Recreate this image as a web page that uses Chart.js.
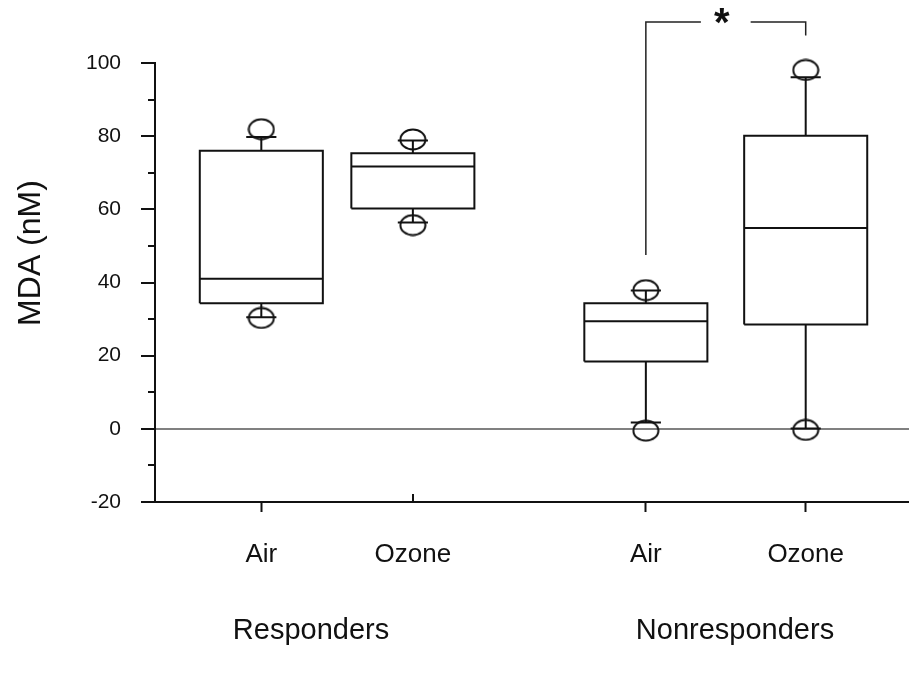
<!DOCTYPE html>
<html>
<head>
<meta charset="utf-8">
<script src="https://cdn.jsdelivr.net/npm/chart.js@4.4.1/dist/chart.umd.min.js"></script>
<style>
	body { margin: 0; background: #fff; }
	#wrap { width: 909px; height: 675px; }
</style>
</head>
<body>
<div id="wrap"><canvas id="box" width="909" height="675"></canvas></div>
<script>
// values
const xLabels = ["Air", "Ozone", "Air", "Ozone"]
const groupLabels = ["Responders", "Nonresponders"]
const xPos = [1.41, 3.42, 6.51, 8.63]
const boxLow = [34.3, 60.2, 18.4, 28.5]
const boxMid = [41.0, 71.7, 29.4, 54.9]
const boxHigh = [76.0, 75.3, 34.3, 80.1]
const whiskerLow = [30.5, 56.4, 1.7, 0.1]
const whiskerHigh = [79.8, 78.8, 37.8, 96.1]
const outlierLow = [30.3, 55.7, -0.5, -0.3]
const outlierHigh = [81.9, 79.1, 37.9, 98.1]
const bracketFoot = [47.5, 107.5]
const bracketTop = 111.2
const yMin = -20
const yMax = 100
const yStep = 20

const BOX_HALF = 0.816
const CAP_HALF = 0.2
const STAR_GAP = 0.33
const FONT = "'Liberation Sans', Arial, Helvetica, sans-serif"
const INK = "#111"

function gap(x) {
	return { x: x, y: null }
}

// one line path per box: outline, median, whiskers, caps
function boxPath(i) {
	const x = xPos[i]
	const l = x - BOX_HALF, r = x + BOX_HALF
	return [
		{ x: l, y: boxLow[i] }, { x: r, y: boxLow[i] }, { x: r, y: boxHigh[i] }, { x: l, y: boxHigh[i] }, { x: l, y: boxLow[i] },
		gap(x),
		{ x: l, y: boxMid[i] }, { x: r, y: boxMid[i] },
		gap(x),
		{ x: x, y: boxHigh[i] }, { x: x, y: whiskerHigh[i] },
		gap(x),
		{ x: x - CAP_HALF, y: whiskerHigh[i] }, { x: x + CAP_HALF, y: whiskerHigh[i] },
		gap(x),
		{ x: x, y: boxLow[i] }, { x: x, y: whiskerLow[i] },
		gap(x),
		{ x: x - CAP_HALF, y: whiskerLow[i] }, { x: x + CAP_HALF, y: whiskerLow[i] },
	]
}

const mid = (xPos[2] + xPos[3]) / 2
const bracket = [
	{ x: xPos[2], y: bracketFoot[0] }, { x: xPos[2], y: bracketTop }, { x: mid - STAR_GAP, y: bracketTop },
	gap(mid),
	{ x: mid + STAR_GAP, y: bracketTop }, { x: xPos[3], y: bracketTop }, { x: xPos[3], y: bracketFoot[1] },
]

const outliers = []
xPos.forEach((x, i) => {
	outliers.push({ x: x, y: outlierLow[i] })
	outliers.push({ x: x, y: outlierHigh[i] })
})

// little open ellipse used as the outlier marker
const ring = document.createElement("canvas")
ring.width = 28
ring.height = 23
const rc = ring.getContext("2d")
rc.strokeStyle = INK
rc.lineWidth = 2
rc.beginPath()
rc.ellipse(14, 11.5, 12.5, 10, 0, 0, Math.PI * 2)
rc.stroke()

const datasets = xPos.map((x, i) => ({
	data: boxPath(i),
	borderColor: INK,
	borderWidth: 2,
	pointRadius: 0,
	spanGaps: false,
	tension: 0,
	borderJoinStyle: "miter",
	clip: false,
}))
datasets.push({
	data: outliers,
	showLine: false,
	pointStyle: ring,
	pointRadius: 12,
	clip: false,
})
datasets.push({
	data: bracket,
	borderColor: "#222",
	borderWidth: 1.5,
	pointRadius: 0,
	spanGaps: false,
	tension: 0,
	clip: false,
})

const extras = {
	id: "extras",
	afterDraw(chart) {
		const ctx = chart.ctx
		const x = chart.scales.x
		const y = chart.scales.y
		const left = chart.chartArea.left
		const bottom = chart.chartArea.bottom
		ctx.save()
		ctx.strokeStyle = INK
		ctx.lineWidth = 2
		// minor ticks on the y axis
		for (let v = yMin + yStep / 2; v < yMax; v += yStep) {
			const py = Math.round(y.getPixelForValue(v))
			ctx.beginPath()
			ctx.moveTo(left - 7, py)
			ctx.lineTo(left, py)
			ctx.stroke()
		}
		// the one x tick that points up
		const px = Math.round(x.getPixelForValue(xPos[1]))
		ctx.beginPath()
		ctx.moveTo(px, bottom)
		ctx.lineTo(px, bottom - 8)
		ctx.stroke()

		ctx.fillStyle = INK
		ctx.textAlign = "center"
		ctx.textBaseline = "middle"
		ctx.font = "bold 40px " + FONT
		ctx.fillText("*", x.getPixelForValue(mid) - 4, y.getPixelForValue(bracketTop) + 3)

		ctx.font = "29px " + FONT
		ctx.fillText(groupLabels[0], 311, 631)
		ctx.fillText(groupLabels[1], 735, 631)

		ctx.translate(31, 253)
		ctx.rotate(-Math.PI / 2)
		ctx.font = "32px " + FONT
		ctx.fillText("MDA (nM)", 0, 0)
		ctx.restore()
	}
}

new Chart(document.getElementById("box"), {
	type: "line",
	data: { datasets: datasets },
	plugins: [extras],
	options: {
		responsive: false,
		animation: false,
		layout: { autoPadding: false, padding: { top: 63, right: 0, left: 0, bottom: 0 } },
		plugins: {
			legend: { display: false },
			tooltip: { enabled: false },
		},
		scales: {
			x: {
				type: "linear",
				min: 0,
				max: 10,
				afterFit: s => {
					s.height = 173
					s.paddingLeft = 0
					s.paddingRight = 0
				},
				afterBuildTicks: s => { s.ticks = xPos.map(v => ({ value: v })) },
				border: { color: INK, width: 2 },
				grid: {
					drawOnChartArea: false,
					tickLength: 10,
					tickWidth: 2,
					tickColor: c => c.index === 1 ? "transparent" : INK,
				},
				ticks: {
					padding: 27,
					color: INK,
					font: { family: FONT, size: 26 },
					callback: (v, i) => xLabels[i],
				},
			},
			y: {
				min: yMin,
				max: yMax,
				afterFit: s => { s.width = 155 },
				border: { color: INK, width: 2 },
				grid: {
					tickLength: 14,
					lineWidth: 2,
					tickWidth: 2,
					color: c => c.tick && c.tick.value === 0 ? "#808080" : "transparent",
					tickColor: INK,
				},
				ticks: {
					stepSize: yStep,
					padding: 20,
					color: INK,
					font: { family: FONT, size: 21 },
				},
			},
		},
	},
})
</script>
</body>
</html>
